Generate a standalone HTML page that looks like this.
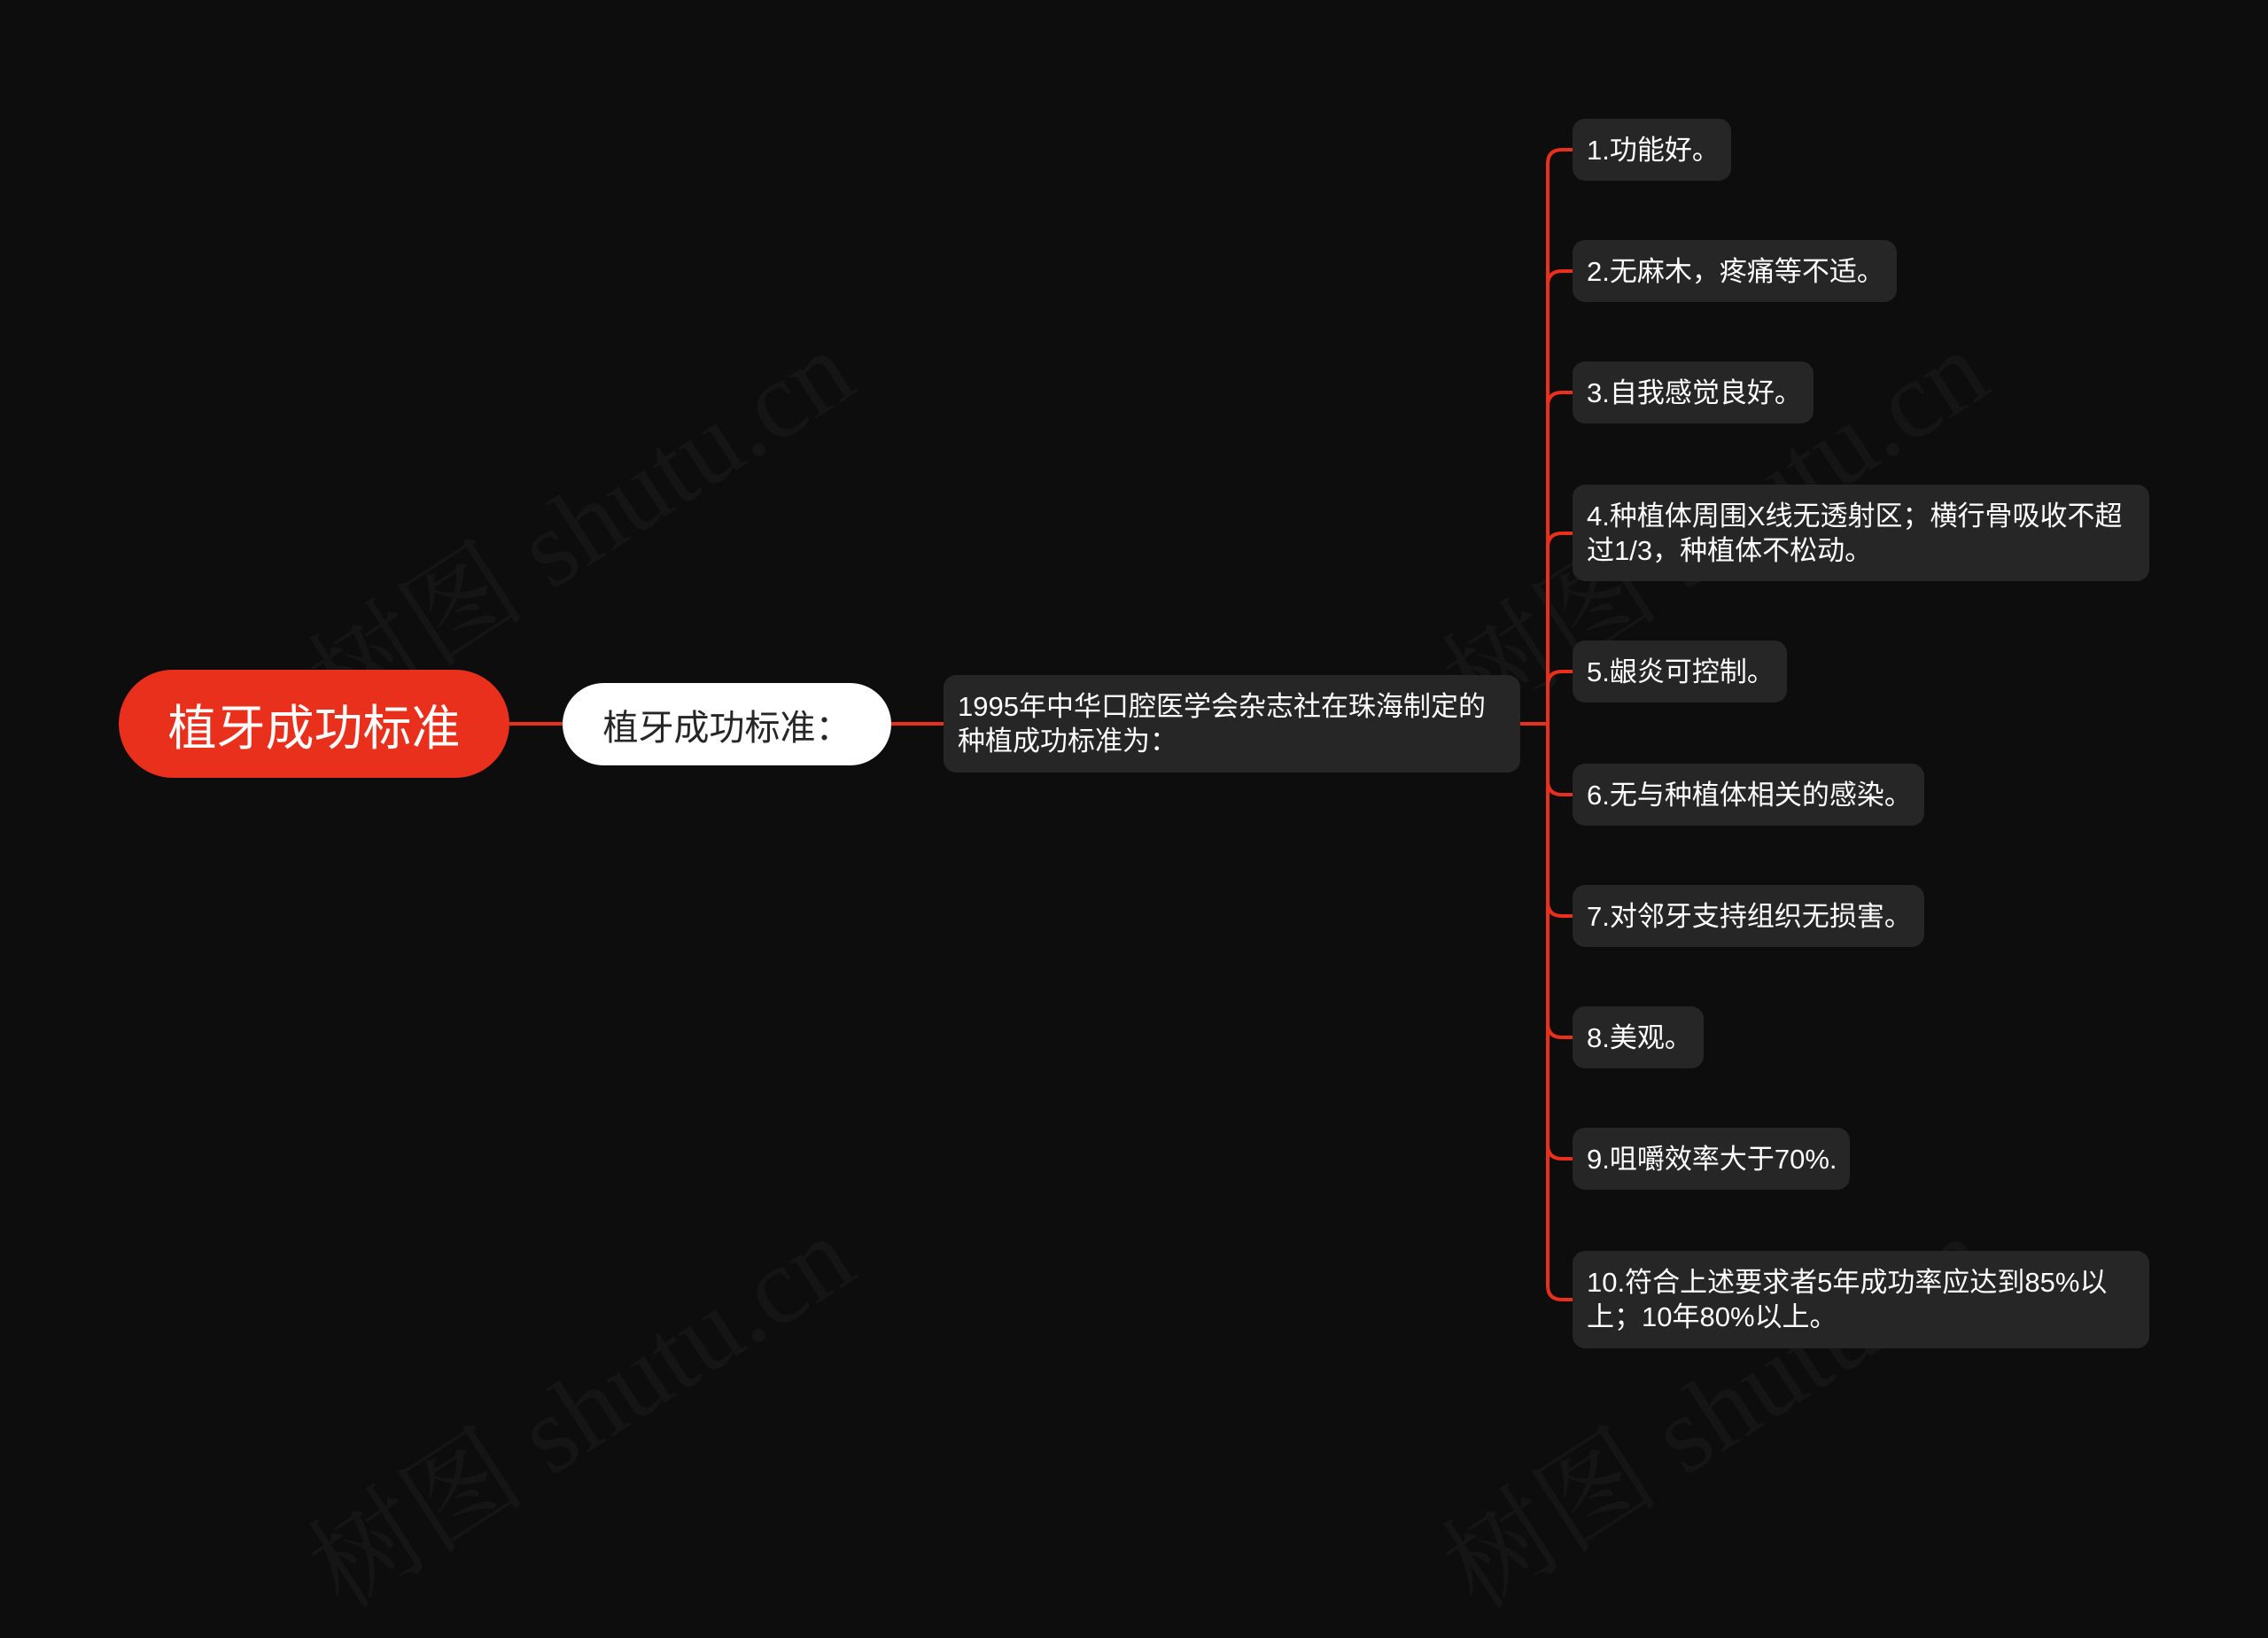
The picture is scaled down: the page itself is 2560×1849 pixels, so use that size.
<!DOCTYPE html>
<html><head><meta charset="utf-8"><style>
html,body{margin:0;padding:0}
body{width:2560px;height:1655px;background:#0d0d0d;position:relative;overflow:hidden;font-family:"Liberation Sans","Noto Sans CJK SC",sans-serif}
.n{position:absolute;box-sizing:border-box;color:#fff;display:flex;align-items:center}
.it{background:#262626;border-radius:14px;left:1775px;padding-left:16px;font-size:31px;line-height:39px;height:70px}
.wm{position:absolute;color:#151515;font-family:"Liberation Serif","Noto Serif CJK SC",serif;font-size:124px;transform:rotate(-33deg);transform-origin:left top;white-space:nowrap}
</style></head><body>
<div class="wm" style="left:310px;top:700px">树图 shutu.cn</div>
<div class="wm" style="left:1590px;top:700px">树图 shutu.cn</div>
<div class="wm" style="left:310px;top:1700px">树图 shutu.cn</div>
<div class="wm" style="left:1590px;top:1700px">树图 shutu.cn</div>
<svg width="2560" height="1655" style="position:absolute;left:0;top:0">
<g stroke="#e8301c" stroke-width="4" fill="none">
<line x1="575" y1="817" x2="635" y2="817"/>
<line x1="1006" y1="817" x2="1065" y2="817"/>
<line x1="1716" y1="817" x2="1747" y2="817"/>
<line x1="1747" y1="184" x2="1747" y2="1451"/>
<path d="M1747 185 Q1747 169 1763 169 H1775"/>
<path d="M1747 322 Q1747 306 1763 306 H1775"/>
<path d="M1747 459 Q1747 443 1763 443 H1775"/>
<path d="M1747 618 Q1747 602 1763 602 H1775"/>
<path d="M1747 774 Q1747 758 1763 758 H1775"/>
<path d="M1747 881 Q1747 897 1763 897 H1775"/>
<path d="M1747 1018 Q1747 1034 1763 1034 H1775"/>
<path d="M1747 1155 Q1747 1171 1763 1171 H1775"/>
<path d="M1747 1292 Q1747 1308 1763 1308 H1775"/>
<path d="M1747 1451 Q1747 1467 1763 1467 H1775"/>
</g></svg>
<div class="n" style="left:134px;top:756px;width:441px;height:122px;background:#e8301c;border-radius:61px;justify-content:center;font-size:55px">植牙成功标准</div>
<div class="n" style="left:635px;top:771px;width:371px;height:93px;background:#fff;color:#262626;border-radius:47px;justify-content:center;font-size:40px">植牙成功标准：</div>
<div class="n" style="left:1065px;top:762px;width:651px;height:110px;background:#262626;border-radius:14px;padding-left:16px;font-size:31px;line-height:39px">1995年中华口腔医学会杂志社在珠海制定的<br>种植成功标准为：</div>
<div class="n it" style="top:134px;width:179px">1.功能好。</div>
<div class="n it" style="top:271px;width:366px">2.无麻木，疼痛等不适。</div>
<div class="n it" style="top:408px;width:272px">3.自我感觉良好。</div>
<div class="n it" style="top:547px;width:651px;height:109px">4.种植体周围X线无透射区；横行骨吸收不超<br>过1/3，种植体不松动。</div>
<div class="n it" style="top:723px;width:242px">5.龈炎可控制。</div>
<div class="n it" style="top:862px;width:397px">6.无与种植体相关的感染。</div>
<div class="n it" style="top:999px;width:397px">7.对邻牙支持组织无损害。</div>
<div class="n it" style="top:1136px;width:148px">8.美观。</div>
<div class="n it" style="top:1273px;width:313px">9.咀嚼效率大于70%.</div>
<div class="n it" style="top:1412px;width:651px;height:110px">10.符合上述要求者5年成功率应达到85%以<br>上；10年80%以上。</div>
</body></html>
